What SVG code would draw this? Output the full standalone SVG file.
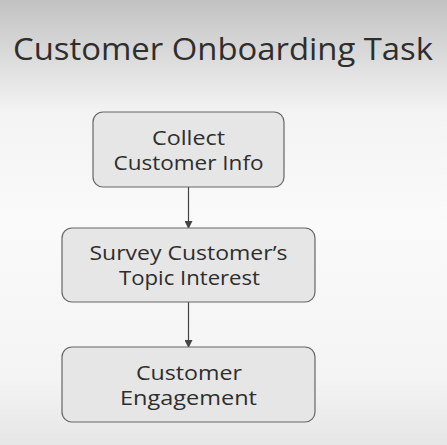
<svg xmlns="http://www.w3.org/2000/svg" width="447" height="445" viewBox="0 0 447 445">
<defs>
<linearGradient id="bg" x1="0" y1="0" x2="0" y2="1">
<stop offset="0" stop-color="#c2c2c2"/>
<stop offset="0.25" stop-color="#f3f3f3"/>
<stop offset="0.5" stop-color="#fafafa"/>
<stop offset="0.85" stop-color="#f4f4f4"/>
<stop offset="1" stop-color="#e6e6e6"/>
</linearGradient>
<marker id="ah" markerWidth="8" markerHeight="8" refX="7" refY="4" orient="auto" markerUnits="userSpaceOnUse">
<path d="M0,0 L8,4 L0,8 Z" fill="#444"/>
</marker>
<style>
.box{fill:#e6e6e6;stroke:#666;stroke-width:1.2}
.t{font-family:"Open Sans","Noto Sans",sans-serif;fill:#2e2e2e;text-anchor:middle}
.n{font-size:20px}
.edge{stroke:#444;stroke-width:1.2;fill:none;marker-end:url(#ah)}
</style>
</defs>
<rect x="0" y="0" width="447" height="445" fill="url(#bg)"/>
<text class="t" x="223" y="60" font-size="31" textLength="420" lengthAdjust="spacingAndGlyphs">Customer Onboarding Task</text>
<g id="connectors">
<line class="edge" x1="188.5" y1="187" x2="188.5" y2="228"/>
<line class="edge" x1="188.5" y1="302" x2="188.5" y2="347"/>
</g>
<g id="node-collect">
<rect class="box" x="93" y="112" width="191" height="75" rx="10"/>
<text class="t n" x="188.5" y="145" textLength="73" lengthAdjust="spacingAndGlyphs">Collect</text>
<text class="t n" x="188.5" y="170" textLength="150" lengthAdjust="spacingAndGlyphs">Customer Info</text>
</g>
<g id="node-survey">
<rect class="box" x="62" y="228" width="253" height="74" rx="10"/>
<text class="t n" x="188.5" y="260" textLength="198" lengthAdjust="spacingAndGlyphs">Survey Customer’s</text>
<text class="t n" x="189.5" y="285" textLength="141" lengthAdjust="spacingAndGlyphs">Topic Interest</text>
</g>
<g id="node-engagement">
<rect class="box" x="62" y="347" width="253" height="75" rx="10"/>
<text class="t n" x="189" y="380" textLength="106" lengthAdjust="spacingAndGlyphs">Customer</text>
<text class="t n" x="188.5" y="405" textLength="137" lengthAdjust="spacingAndGlyphs">Engagement</text>
</g>
</svg>
